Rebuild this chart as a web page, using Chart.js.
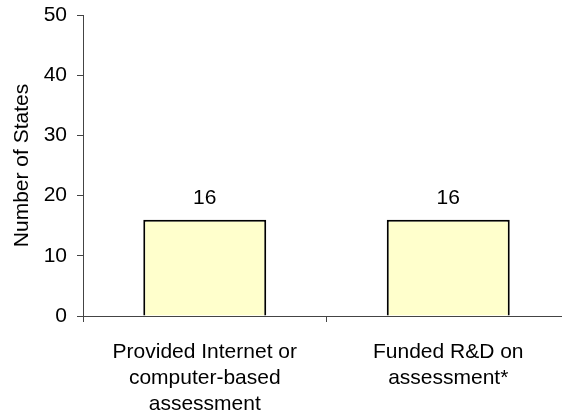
<!DOCTYPE html>
<html>
<head>
<meta charset="utf-8">
<script src="https://cdn.jsdelivr.net/npm/chart.js@4"></script>
<style>
  html, body { margin: 0; padding: 0; background: #fff; overflow: hidden; }
  #wrap { position: absolute; left: 0; top: 0; width: 572px; height: 413px; }
</style>
</head>
<body>
<div id="wrap"><canvas id="chart"></canvas></div>
<script>
// Datos del gráfico
const categories = [
    ["Provided Internet or", "computer-based", "assessment"],
    ["Funded R&D on", "assessment*"]
];
const stateCounts = [16, 16];
const yTicks = [0, 10, 20, 30, 40, 50];

const FONT = "'Liberation Sans', Arial, sans-serif";
const SIZE = 21;

// Etiquetas de valor encima de cada barra
const valueLabels = {
    id: "valueLabels",
    afterDatasetsDraw(chart) {
        const ctx = chart.ctx;
        const meta = chart.getDatasetMeta(0);
        ctx.save();
        ctx.font = SIZE + "px " + FONT;
        ctx.fillStyle = "#000";
        ctx.textAlign = "center";
        ctx.textBaseline = "alphabetic";
        meta.data.forEach((bar, i) => {
            ctx.fillText(stateCounts[i], bar.x, bar.y - 16);
        });
        ctx.restore();
    }
};

new Chart(document.getElementById("chart"), {
    type: "bar",
    data: {
        labels: categories,
        datasets: [{
            data: stateCounts,
            backgroundColor: "#ffffcc",
            borderColor: "#000",
            borderWidth: 2,
            barPercentage: 0.505,
            categoryPercentage: 1
        }]
    },
    options: {
        responsive: true,
        maintainAspectRatio: false,
        animation: false,
        layout: { padding: { top: 15, right: 2, left: 0, bottom: 0 } },
        plugins: {
            legend: { display: false },
            tooltip: { enabled: false }
        },
        scales: {
            x: {
                offset: true,
                grid: { offset: true, drawOnChartArea: false, tickLength: 6, color: "#444" },
                border: { color: "#444", width: 1 },
                ticks: {
                    color: "#000",
                    font: { family: FONT, size: SIZE, lineHeight: 1.25 },
                    padding: 17,
                    maxRotation: 0
                },
                afterFit(scale) { scale.height = 97; }
            },
            y: {
                min: 0,
                max: 50,
                afterBuildTicks(scale) { scale.ticks = yTicks.map(v => ({ value: v })); },
                grid: { drawOnChartArea: false, tickLength: 6, color: "#444" },
                border: { color: "#444", width: 1 },
                ticks: {
                    color: "#000",
                    font: { family: FONT, size: SIZE },
                    padding: 10
                },
                title: {
                    display: true,
                    text: "Number of States",
                    color: "#000",
                    font: { family: FONT, size: SIZE },
                    padding: { top: 10, bottom: 4 }
                },
                afterFit(scale) {
                    scale.width = 83;
                    scale.paddingTop = 0;
                    scale.paddingBottom = 0;
                }
            }
        }
    },
    plugins: [valueLabels]
});
</script>
</body>
</html>
